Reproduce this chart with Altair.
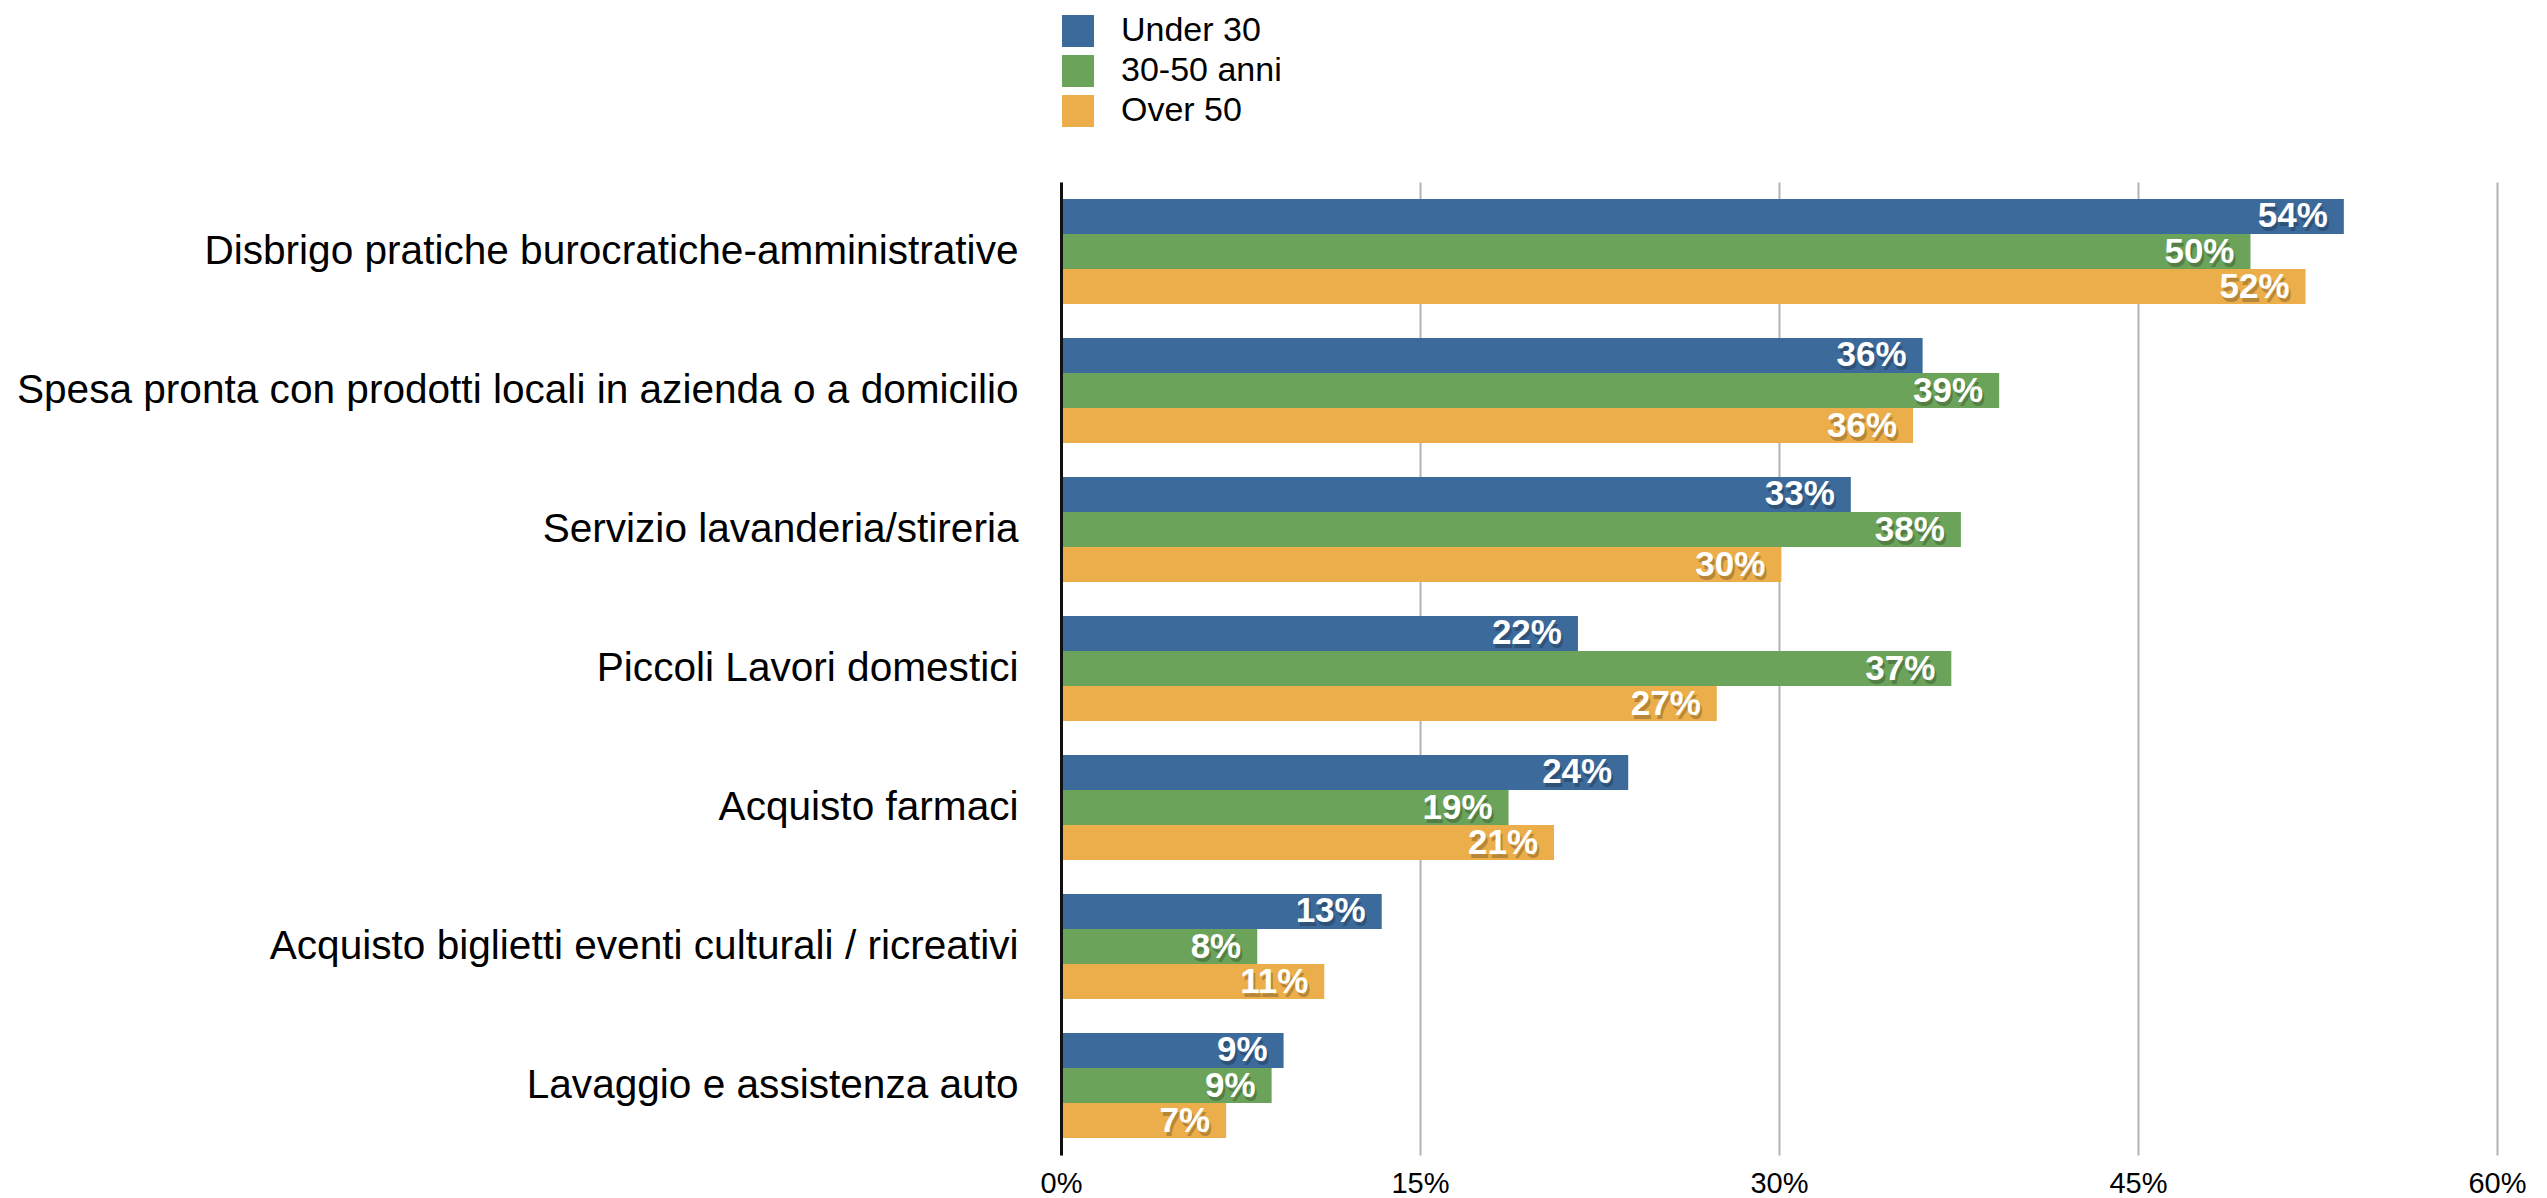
import altair as alt
import pandas as pd

categories = [
    "Disbrigo pratiche burocratiche-amministrative",
    "Spesa pronta con prodotti locali in azienda o a domicilio",
    "Servizio lavanderia/stireria",
    "Piccoli Lavori domestici",
    "Acquisto farmaci",
    "Acquisto biglietti eventi culturali / ricreativi",
    "Lavaggio e assistenza auto",
]
groups = ["Under 30", "30-50 anni", "Over 50"]
colors = ["#3C6A9A", "#6CA35A", "#ECAE4A"]

under30 = [53.6, 36.0, 33.0, 21.6, 23.7, 13.4, 9.3]
anni30_50 = [49.7, 39.2, 37.6, 37.2, 18.7, 8.2, 8.8]
over50 = [52.0, 35.6, 30.1, 27.4, 20.6, 11.0, 6.9]

under30_lbl = [54, 36, 33, 22, 24, 13, 9]
anni30_50_lbl = [50, 39, 38, 37, 19, 8, 9]
over50_lbl = [52, 36, 30, 27, 21, 11, 7]

rows = []
for g, vals, lbls in zip(groups, [under30, anni30_50, over50],
                         [under30_lbl, anni30_50_lbl, over50_lbl]):
    for c, v, l in zip(categories, vals, lbls):
        rows.append({"categoria": c, "gruppo": g, "valore": v, "etichetta": f"{l}%"})
df = pd.DataFrame(rows)

FONT = "Liberation Sans"

x = alt.X(
    "valore:Q",
    scale=alt.Scale(domain=[0, 60], nice=False, zero=True),
    axis=alt.Axis(
        title=None, values=[0, 15, 30, 45, 60], labelExpr="datum.value + '%'",
        grid=True, gridColor="#b3b3b3", gridWidth=2, domain=False, ticks=False,
        labelFontSize=29, labelPadding=14, labelColor="#000000", labelFont=FONT,
        labelFlush=False,
    ),
)
y = alt.Y(
    "categoria:N", sort=categories,
    scale=alt.Scale(paddingInner=0.2446, paddingOuter=0.1223),
    axis=alt.Axis(
        title=None, ticks=False, domain=True, domainColor="#111111", domainWidth=3,
        labelFontSize=40.6, labelFont=FONT, labelColor="#000000", labelPadding=43,
        labelLimit=3000, grid=False, zindex=1,
    ),
)
yoff = alt.YOffset("gruppo:N", sort=groups, scale=alt.Scale(paddingInner=0, paddingOuter=0))

base = alt.Chart(df).encode(x=x, y=y, yOffset=yoff)

bars = base.mark_bar().encode(
    color=alt.Color(
        "gruppo:N", sort=groups, scale=alt.Scale(domain=groups, range=colors),
        legend=alt.Legend(
            title=None, orient="none", legendX=0, legendY=-168, symbolType="square",
            symbolSize=1024, symbolStrokeWidth=0, symbolOpacity=1, labelFontSize=34,
            labelFont=FONT, labelColor="#000000", labelOffset=26, rowPadding=6, padding=0,
            labelLimit=600,
        ),
    )
)

shadow = base.mark_text(
    align="right", baseline="middle", dx=-14, dy=4, font=FONT, fontWeight="bold",
    fontSize=35, color="#000000", opacity=0.22,
).encode(text="etichetta:N")

labels = base.mark_text(
    align="right", baseline="middle", dx=-16, font=FONT, fontWeight="bold",
    fontSize=35, color="#ffffff",
).encode(text="etichetta:N")

chart = (
    alt.layer(bars, shadow, labels)
    .properties(
        width=1436, height=973,
        autosize=alt.AutoSizeParams(type="none"),
        padding={"left": 1053, "top": 174, "right": 40, "bottom": 42},
        background="#ffffff",
    )
    .configure_view(stroke=None)
)

chart.save("out.html", embed_options={"renderer": "svg", "actions": False})
